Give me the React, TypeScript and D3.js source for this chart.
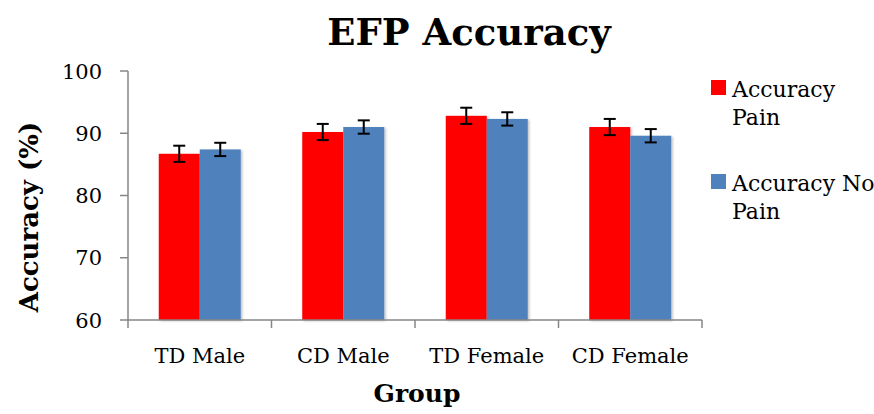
import React from "react";
import * as d3 from "d3";

const groups = ["TD Male", "CD Male", "TD Female", "CD Female"];
const seriesNames = ["Accuracy Pain", "Accuracy No Pain"];
const painValues = [86.7, 90.2, 92.8, 91.0];
const noPainValues = [87.4, 91.0, 92.3, 89.6];
const painErrors = [1.3, 1.3, 1.3, 1.3];
const noPainErrors = [1.07, 1.07, 1.07, 1.07];
const yTicks = [60, 70, 80, 90, 100];

const colors = ["#ff0000", "#4f81bd"];
const font = "'DejaVu Serif', serif";

function App() {
  const width = 874;
  const height = 414;
  const left = 128;
  const right = 702;
  const top = 71;
  const bottom = 320;

  const x = d3.scaleBand<string>().domain(groups).range([left, right]);
  const inner = d3
    .scaleBand<string>()
    .domain(seriesNames)
    .range([0, x.bandwidth()])
    .paddingInner(0)
    .paddingOuter(0.75);
  const y = d3.scaleLinear().domain([60, 100]).range([bottom, top]);

  const series = [
    { name: seriesNames[0], values: painValues, errors: painErrors },
    { name: seriesNames[1], values: noPainValues, errors: noPainErrors },
  ];

  const axisColor = "#868686";

  return (
    <svg
      width={width}
      height={height}
      style={{ position: "absolute", left: 0, top: 0, background: "#fff" }}
      fontFamily={font}
    >
      <defs>
        <filter id="shadow" x="-10%" y="-10%" width="130%" height="130%">
          <feDropShadow dx="1.5" dy="1" stdDeviation="1.2" floodColor="#000" floodOpacity="0.25" />
        </filter>
      </defs>

      <text x={469} y={45} textAnchor="middle" fontSize={37} fontWeight="bold">
        EFP Accuracy
      </text>

      {/* bars */}
      {series.map((s, si) =>
        groups.map((g, gi) => {
          const bx = (x(g) ?? 0) + (inner(s.name) ?? 0);
          const v = s.values[gi];
          return (
            <rect
              key={s.name + g}
              x={bx}
              y={y(v)}
              width={inner.bandwidth()}
              height={y(60) - y(v)}
              fill={colors[si]}
              filter="url(#shadow)"
            />
          );
        })
      )}

      {/* axes */}
      <line x1={left} x2={left} y1={top} y2={bottom} stroke={axisColor} strokeWidth={1.5} />
      <line x1={left} x2={right} y1={bottom} y2={bottom} stroke={axisColor} strokeWidth={1.5} />
      {yTicks.map((t) => (
        <g key={t}>
          <line x1={left - 8} x2={left} y1={y(t)} y2={y(t)} stroke={axisColor} strokeWidth={1.5} />
          <text x={left - 26} y={y(t)} dy="0.36em" textAnchor="end" fontSize={21}>
            {t}
          </text>
        </g>
      ))}
      {[...groups.map((g) => x(g) ?? 0), right].map((tx, i) => (
        <line key={i} x1={tx} x2={tx} y1={bottom} y2={bottom + 8} stroke={axisColor} strokeWidth={1.5} />
      ))}
      {groups.map((g) => (
        <text
          key={g}
          x={(x(g) ?? 0) + x.bandwidth() / 2}
          y={363}
          textAnchor="middle"
          fontSize={21}
        >
          {g}
        </text>
      ))}

      {/* error bars */}
      {series.map((s) =>
        groups.map((g, gi) => {
          const cx = (x(g) ?? 0) + (inner(s.name) ?? 0) + inner.bandwidth() / 2;
          const v = s.values[gi];
          const e = s.errors[gi];
          return (
            <g key={"e" + s.name + g} stroke="#000" strokeWidth={2}>
              <line x1={cx} x2={cx} y1={y(v + e)} y2={y(v - e)} />
              <line x1={cx - 6} x2={cx + 6} y1={y(v + e)} y2={y(v + e)} />
              <line x1={cx - 6} x2={cx + 6} y1={y(v - e)} y2={y(v - e)} />
            </g>
          );
        })
      )}

      <text x={417} y={402} textAnchor="middle" fontSize={25} fontWeight="bold">
        Group
      </text>
      <text
        transform={`translate(38, 217) rotate(-90)`}
        textAnchor="middle"
        fontSize={26}
        fontWeight="bold"
      >
        Accuracy (%)
      </text>

      {/* legend */}
      {[
        { lines: ["Accuracy", "Pain"], y: 80 },
        { lines: ["Accuracy No", "Pain"], y: 174 },
      ].map((l, i) => (
        <g key={i}>
          <rect x={711} y={l.y} width={15} height={15} fill={colors[i]} />
          {l.lines.map((t, j) => (
            <text key={j} x={732} y={l.y + 17 + j * 28} fontSize={22}>
              {t}
            </text>
          ))}
        </g>
      ))}
    </svg>
  );
}

export default App;
